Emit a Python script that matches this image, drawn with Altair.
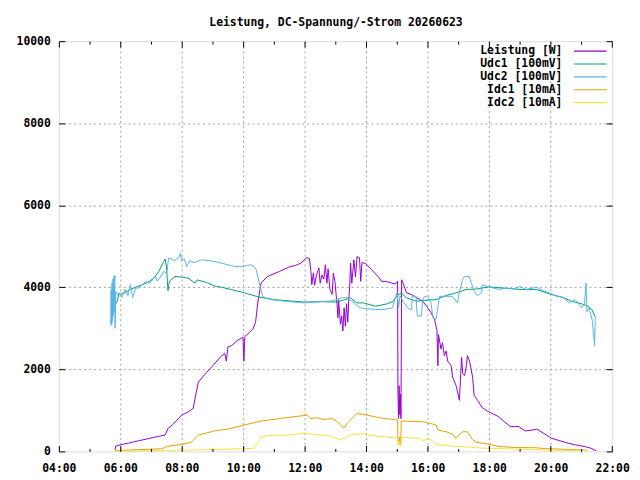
import altair as alt
import pandas as pd

SERIES = ["Leistung [W]", "Udc1 [100mV]", "Udc2 [100mV]", "Idc1 [10mA]", "Idc2 [10mA]"]
COLORS = ["#9400D3", "#009E73", "#56B4E9", "#E69F00", "#F0E442"]
TITLE = "Leistung, DC-Spannung/-Strom 20260623"

# time in hours of day
p_t = [5.83, 5.85, 6.0, 6.3, 6.6, 6.9, 7.2, 7.46, 7.55, 7.7, 8.0, 8.2, 8.37, 8.45, 8.54, 8.8, 9.0, 9.29, 9.4, 9.45,
       9.5, 9.61, 9.8, 9.99, 10.02, 10.05, 10.2, 10.31, 10.4, 10.47, 10.58, 10.79, 11.17, 11.5, 11.69, 11.87, 12.07,
       12.15, 12.2, 12.23, 12.28, 12.32, 12.38, 12.46, 12.5, 12.56, 12.62, 12.67, 12.72, 12.76, 12.82, 12.89, 12.93,
       12.98, 13.05, 13.08, 13.1, 13.16, 13.2, 13.24, 13.28, 13.32, 13.36, 13.4, 13.43, 13.46, 13.49, 13.53, 13.6,
       13.65, 13.7, 13.78, 13.82, 13.86, 13.96, 14.12, 14.28, 14.4, 14.5, 14.65, 14.82, 14.95, 15.02, 15.03, 15.05,
       15.07, 15.09, 15.11, 15.13, 15.15, 15.2, 15.31, 15.47, 15.57, 15.84, 16.0, 16.11, 16.22, 16.3, 16.33, 16.35,
       16.43, 16.48, 16.54, 16.6, 16.65, 16.76, 16.81, 16.92, 16.97, 17.03, 17.06, 17.1, 17.14, 17.2, 17.26, 17.29,
       17.36, 17.46, 17.51, 17.62, 17.78, 18.0, 18.31, 18.5, 18.69, 18.96, 19.17, 19.4, 19.55, 19.75, 20.03, 20.3,
       20.57, 20.8, 21.1, 21.3, 21.48]
p_v = [40, 130, 160, 210, 260, 310, 360, 400, 560, 650, 885, 960, 1045, 1370, 1690, 1920, 2080, 2330, 2380, 2200,
       2550, 2575, 2700, 2780, 2200, 2800, 2900, 2980, 3150, 3620, 4105, 4265, 4385, 4500, 4530, 4590, 4725,
       4700, 4385, 4065, 4350, 4050, 4300, 4470, 4100, 4300, 4200, 4550, 4100, 4450, 3950, 3825, 4345,
       4150, 3580, 3260, 3700, 3100, 3300, 2935, 3500, 3050, 3600, 3150, 3700, 3985, 4590, 4100, 4670,
       4250, 4750, 4720, 4145, 4600, 4590, 4470, 4345, 4250, 4145, 4145, 4105, 4080, 4145, 1500, 800,
       1600, 900, 1400, 800, 4185, 4100, 3865, 3825, 3780, 3660, 3500, 3380, 3220, 2950, 2090, 2850,
       2495, 2650, 2335, 2450, 2200, 2090, 1810, 1610, 1450, 1245, 1700, 2295, 1900, 1850, 2100, 2335,
       2200, 1810, 1370, 1245, 1060, 960, 845, 720, 605, 605, 500, 520, 545, 450, 320, 260,
       200, 160, 120, 80, 15]

u1_t = [5.69, 5.72, 5.76, 5.9, 5.95, 6.1, 6.33, 6.5, 6.71, 6.9, 7.09, 7.25, 7.41, 7.46, 7.5, 7.55, 7.6, 7.78, 8.0,
        8.2, 8.43, 8.5, 8.8, 9.07, 9.3, 9.61, 10.04, 10.47, 11.0, 11.5, 11.97, 12.5, 13.05, 13.3, 13.48, 13.7, 13.91,
        14.3, 14.7, 14.88, 15.0, 15.14, 15.3, 15.63, 16.0, 16.27, 16.6, 16.92, 17.24, 17.6, 17.99, 18.5, 19.07, 19.55,
        20.03, 20.4, 20.68, 21.0, 21.21, 21.35, 21.43]
u1_v = [3180, 3100, 3500, 3660, 3825, 3850, 3950, 4000, 4065, 4120, 4225, 4385, 4630, 4690, 4500, 3920, 4150, 4265, 4250,
        4225, 4105, 4180, 4120, 4030, 4000, 3945, 3865, 3770, 3700, 3670, 3640, 3650, 3640, 3700, 3745, 3620, 3620,
        3540, 3600, 3660, 3800, 3865, 3750, 3660, 3690, 3700, 3800, 3865, 3945, 3960, 4010, 3980, 3945, 3945,
        3825, 3750, 3660, 3600, 3540, 3450, 3300]

u2_t = [5.69, 5.70, 5.71, 5.73, 5.74, 5.76, 5.77, 5.79, 5.80, 5.82, 5.83, 5.85, 5.9, 5.96, 6.05, 6.15, 6.25, 6.33, 6.4,
        6.5, 6.6, 6.7, 6.82, 6.95, 7.14, 7.2, 7.3, 7.41, 7.51, 7.57, 7.62, 7.75, 7.9, 7.95, 8.0, 8.08, 8.16, 8.25, 8.4,
        8.64, 8.9, 9.29, 9.5, 9.72, 9.99, 10.25, 10.35, 10.42, 10.52, 10.63, 10.8, 11.0, 11.5, 12.0, 12.5, 12.9, 13.2,
        13.4, 13.6, 13.8, 14.0, 14.3, 14.6, 14.85, 14.92, 15.0, 15.05, 15.1, 15.2, 15.4, 15.47, 15.5, 15.62, 15.66,
        15.79, 15.84, 15.9, 16.0, 16.1, 16.17, 16.27, 16.33, 16.38, 16.6, 16.8, 16.97, 17.02, 17.13, 17.2, 17.35,
        17.42, 17.51, 17.62, 17.75, 17.78, 18.0, 18.3, 18.6, 18.8, 19.0, 19.2, 19.55, 19.75, 20.0, 20.2, 20.4, 20.6,
        20.8, 21.0, 21.1, 21.15, 21.18, 21.25, 21.35, 21.43, 21.45]
u2_v = [3060, 3950, 3100, 4100, 3200, 4200, 3300, 4265, 3400, 4300, 3000, 3900, 3825, 3865, 3750, 3950, 3800, 4065, 3750,
        3980, 3985, 4050, 4145, 4100, 4265, 4150, 4250, 4385, 4345, 4710, 4710, 4650, 4720, 4830, 4650, 4700, 4505, 4650, 4600,
        4670, 4650, 4590, 4550, 4505, 4505, 4550, 4500, 4430, 4105, 3780, 3720, 3690, 3650, 3620, 3650, 3670, 3745,
        3745, 3620, 3500, 3480, 3460, 3460, 3500, 3700, 3865, 3500, 3800, 3650, 3460, 3460, 3780, 3780, 3300,
        3300, 3700, 3780, 3780, 3650, 3260, 3220, 3500, 3780, 3780, 3780, 3620, 3850, 4185, 4265, 4265,
        4100, 3905, 3800, 3860, 4065, 4010, 3950, 3980, 3960, 4020, 3950, 4000, 3920, 3850, 3780, 3760, 3620,
        3700, 3500, 3600, 4105, 3400, 3500, 3200, 2575, 3300]

i1_t = [5.83, 7.35, 7.51, 8.0, 8.32, 8.54, 9.07, 9.5, 10.04, 10.58, 11.22, 12.08, 12.2, 12.4, 12.6, 12.9, 13.1, 13.26,
        13.4, 13.6, 13.69, 14.02, 14.55, 14.95, 15.02, 15.03, 15.06, 15.09, 15.12, 15.14, 15.84, 16.27, 16.33, 16.6,
        16.8, 16.92, 17.13, 17.29, 17.46, 17.6, 17.78, 17.99, 18.31, 18.85, 19.5, 19.8, 20.5, 21.2]
i1_v = [20, 65, 120, 175, 225, 400, 500, 545, 645, 740, 805, 885, 800, 820, 780, 800, 700, 565,
        700, 850, 925, 885, 805, 775, 750, 300, 150, 350, 150, 740, 725, 645, 520, 480,
        420, 320, 480, 480, 280, 220, 200, 175, 120, 95, 90, 70, 50, 30]

i2_t = [5.83, 8.0, 10.04, 10.36, 10.58, 10.79, 11.44, 11.97, 12.51, 12.8, 13.16, 13.5, 13.91, 14.02, 14.77, 15.02, 15.04,
        15.08, 15.12, 15.14, 15.74, 15.85, 16.0, 16.1, 16.33, 16.92, 17.3, 17.78, 18.53, 19.2, 20.1, 21.2]
i2_v = [5, 30, 65, 80, 360, 385, 400, 440, 400, 380, 280, 400, 440, 400, 340, 330, 160,
        250, 140, 340, 320, 260, 320, 280, 160, 120, 110, 80, 65, 50, 30, 20]

x_label_ticks = [4, 6, 8, 10, 12, 14, 16, 18, 20, 22]
x_all_ticks = list(range(4, 23))
y_ticks = [0, 2000, 4000, 6000, 8000, 10000]

frames = []
for name, t, v in zip(SERIES, [p_t, u1_t, u2_t, i1_t, i2_t], [p_v, u1_v, u2_v, i1_v, i2_v]):
    frames.append(pd.DataFrame({"series": name, "t": t, "v": v}))
df = pd.concat(frames, ignore_index=True)
df["order"] = range(len(df))

FONT = "DejaVu Sans Mono"
FS = 11.5
W, H = 558.4, 414
xs = alt.Scale(domain=[4, 22], nice=False, zero=False)
ys = alt.Scale(domain=[0, 10000], nice=False)
GRID = dict(grid=True, gridColor="#a0a0a0", gridDash=[2, 3], gridWidth=1,
            gridOpacity={"condition": {"test": "datum.value == 4 || datum.value == 22 || datum.value == 0 || datum.value == 10000", "value": 0}, "value": 1})
LBL = dict(labelFont=FONT, labelFontSize=FS, labelFontWeight="bold", labelColor="black",
           labelFlush=False, labelOverlap=False)

ax_x_lbl = alt.Axis(values=x_label_ticks, ticks=False, tickSize=0, domain=False, title=None, zindex=0,
                    labelExpr="(datum.value < 10 ? '0' : '') + datum.value + ':00'", labelPadding=11.3,
                    **GRID, **LBL)
ax_y_lbl = alt.Axis(values=y_ticks, ticks=False, tickSize=0, domain=False, title=None, zindex=0,
                    format="d", labelPadding=8.6, **GRID, **LBL)

minor_dash = {"condition": {"test": "datum.value % 2 == 1", "value": [0, 3, 3]}, "value": [6, 0]}
TK = dict(domain=False, labels=False, grid=False, tickSize=6, tickColor="black", tickWidth=1,
          offset=-6, zindex=1)
ax_x_bot = alt.Axis(values=x_all_ticks, orient="bottom", tickDash=minor_dash, title=None, **TK)
ax_x_top = alt.Axis(values=x_all_ticks, orient="top", tickDash=minor_dash, title=TITLE,
                    titleFont=FONT, titleFontSize=FS, titleFontWeight="bold", titleColor="black",
                    titleX=W / 2, titleY=-21.5, titleAlign="center", titleBaseline="alphabetic",
                    titleAnchor="middle", **TK)
ax_y_left = alt.Axis(values=y_ticks, orient="left", title=None, **TK)
ax_y_right = alt.Axis(values=y_ticks, orient="right", title=None, **TK)

base = alt.Chart(df)
ticks_a = base.mark_line(opacity=0).encode(
    x=alt.X("t:Q", scale=xs, axis=ax_x_bot), y=alt.Y("v:Q", scale=ys, axis=ax_y_left))
ticks_b = base.mark_line(opacity=0).encode(
    x=alt.X("t:Q", scale=xs, axis=ax_x_top), y=alt.Y("v:Q", scale=ys, axis=ax_y_right))
lines = base.mark_line(strokeWidth=1).encode(
    x=alt.X("t:Q", scale=xs, axis=ax_x_lbl),
    y=alt.Y("v:Q", scale=ys, axis=ax_y_lbl),
    color=alt.Color("series:N", scale=alt.Scale(domain=SERIES, range=COLORS), sort=SERIES,
                    legend=alt.Legend(title=None, orient="none", legendX=530.5, legendY=4.3,
                                      symbolType="M-4,0H4", symbolSize=68, symbolStrokeWidth=1.2,
                                      labelFont=FONT, labelFontSize=FS, labelFontWeight="bold",
                                      labelColor="black", labelAlign="right", labelOffset={"expr": "-33.8"},
                                      rowPadding=0, padding=0, offset=0,
                                      labelLimit=300)),
    order="order:Q",
)

chart = alt.layer(lines, ticks_a, ticks_b).resolve_axis(x="independent", y="independent").properties(
    width=W, height=H,
    autosize=alt.AutoSizeParams(type="none"),
    padding={"left": 51.3, "top": 31.3, "right": 20, "bottom": 30},
).configure_view(stroke="black", strokeWidth=1).configure(background="white")

chart.save("out.html", embed_options={"renderer": "svg", "actions": False})
